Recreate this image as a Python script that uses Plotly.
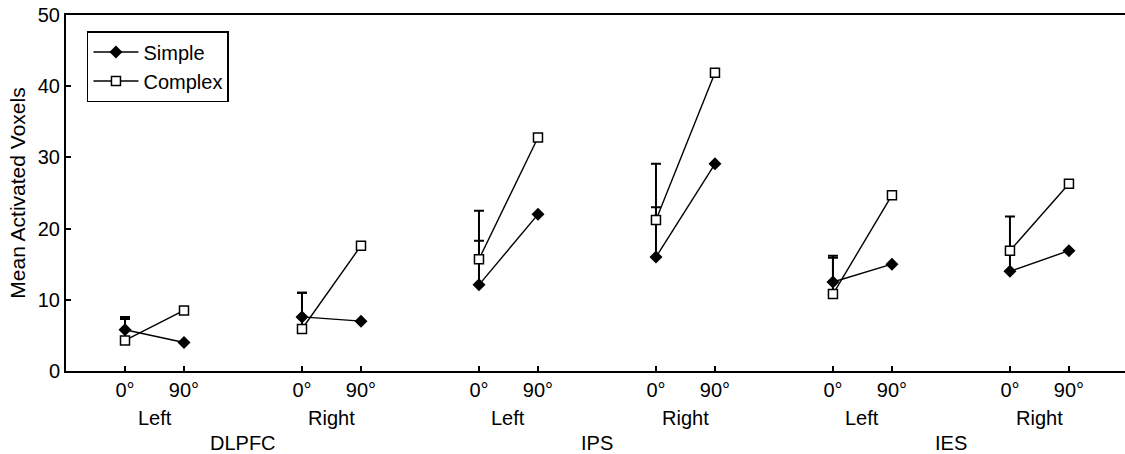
import plotly.graph_objects as go

# ---- data ----
regions = ["DLPFC", "IPS", "IES"]
hemispheres = ["Left", "Right"]
angles = ["0°", "90°"]

# values ordered: DLPFC-L (0,90), DLPFC-R, IPS-L, IPS-R, IES-L, IES-R
simple = [5.8, 4.0, 7.6, 7.0, 12.1, 22.0, 16.0, 29.1, 12.5, 15.0, 14.0, 16.9]
complex_ = [4.3, 8.5, 5.9, 17.6, 15.7, 32.8, 21.2, 41.9, 10.8, 24.7, 16.9, 26.3]
# upward error (0° conditions only)
simple_err = [1.8, 3.4, 6.2, 7.0, 3.4, 3.0]
complex_err = [3.0, 5.1, 6.8, 7.9, 5.4, 4.8]

# ---- positions ----
n_groups = len(regions) * len(hemispheres)
xpos = [g * 3 + k for g in range(n_groups) for k in range(2)]
x0 = [g * 3 for g in range(n_groups)]


def with_gaps(vals):
    out = []
    for i in range(0, len(vals), 2):
        out += [vals[i], vals[i + 1], None]
    return out


xs = with_gaps(xpos)
fig = go.Figure()

# error bars (drawn first, under markers)
for vals, err in ((simple, simple_err), (complex_, complex_err)):
    fig.add_trace(go.Scatter(
        x=x0, y=vals[0::2], mode="markers",
        marker=dict(size=1, color="rgba(0,0,0,0)"),
        error_y=dict(type="data", symmetric=False, array=err,
                     arrayminus=[0] * len(err), color="black",
                     thickness=2, width=5),
        showlegend=False, hoverinfo="skip"))

fig.add_trace(go.Scatter(
    x=xs, y=with_gaps(simple), mode="lines+markers", name="Simple",
    line=dict(color="black", width=1.4),
    marker=dict(symbol="diamond", size=10, color="black"),
    connectgaps=False))
fig.add_trace(go.Scatter(
    x=xs, y=with_gaps(complex_), mode="lines+markers", name="Complex",
    line=dict(color="black", width=1.4),
    marker=dict(symbol="square", size=9, color="white",
                line=dict(color="black", width=1.5)),
    connectgaps=False))

FONT = "Liberation Sans, Arial, sans-serif"
W, H = 1125, 454
M_L, M_T, M_B = 66, 15, 83
PLOT_H = H - M_T - M_B

annotations = []
for r_i, reg in enumerate(regions):
    for h_i, hemi in enumerate(hemispheres):
        g = r_i * 2 + h_i
        annotations.append(dict(x=g * 3 + 0.5, y=-47 / PLOT_H, xref="x", yref="paper",
                                text=hemi, showarrow=False, yanchor="middle",
                                font=dict(size=20, color="black", family=FONT)))
    annotations.append(dict(x=r_i * 6 + 2, y=-72 / PLOT_H, xref="x", yref="paper",
                            text=reg, showarrow=False, yanchor="middle",
                            font=dict(size=20, color="black", family=FONT)))

fig.update_layout(
    width=W, height=H,
    margin=dict(l=M_L, r=0, t=M_T, b=M_B, autoexpand=False),
    paper_bgcolor="white", plot_bgcolor="white",
    font=dict(family=FONT, color="black", size=20),
    showlegend=True,
    legend=dict(x=0.0198, y=0.955, xanchor="left", yanchor="top",
                bordercolor="black", borderwidth=1.5, bgcolor="white",
                font=dict(size=20, family=FONT), tracegroupgap=0,
                itemwidth=45),
    annotations=annotations,
)
fig.update_xaxes(
    range=[-1, 16.95], tickvals=xpos, ticktext=angles * n_groups,
    showgrid=False, zeroline=False, showline=True, linecolor="black", linewidth=2,
    mirror=True, ticks="inside", ticklen=5, tickwidth=1.5, tickcolor="black",
    tickfont=dict(size=20, family=FONT))
fig.update_yaxes(
    range=[0, 50], tickvals=[0, 10, 20, 30, 40, 50],
    showgrid=False, zeroline=False, showline=True, linecolor="black", linewidth=2,
    ticks="inside", ticklen=5, tickwidth=1.5, tickcolor="black",
    title=dict(text="Mean Activated Voxels", font=dict(size=21, family=FONT), standoff=6),
    tickfont=dict(size=20, family=FONT))

# remove the default 8px page margin so the figure sits at the window's corner
fig.write_html("out.html", config={"displayModeBar": False},
               post_script="document.body.style.margin='0';")
